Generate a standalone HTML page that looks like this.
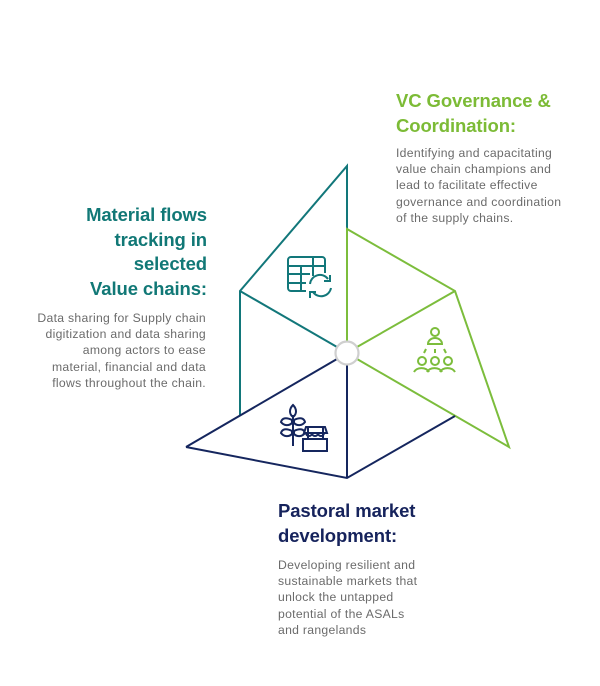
<!DOCTYPE html>
<html><head><meta charset="utf-8"><style>
html,body{margin:0;padding:0;background:#fff;}
body{width:600px;height:686px;position:relative;overflow:hidden;font-family:"Liberation Sans",sans-serif;}
.t{position:absolute;font-weight:bold;font-size:18.5px;line-height:24.5px;letter-spacing:-0.1px;white-space:nowrap;}
.b{position:absolute;font-size:12.2px;line-height:16.2px;color:#6b6b6b;white-space:nowrap;letter-spacing:0.3px;}
</style></head><body>
<svg width="600" height="686" style="position:absolute;left:0;top:0" fill="none" stroke-width="2" stroke-linejoin="miter">
<g stroke="#12777a">
<polyline points="347,229 347,166 240,291 240,416"/>
<line x1="240" y1="291" x2="337" y2="347"/>
</g>
<g stroke="#7cbd3c">
<polyline points="347,341 347,229 455,291 509,447 357,359"/>
<line x1="455" y1="291" x2="357" y2="347"/>
</g>
<g stroke="#15265e">
<line x1="337" y1="359" x2="186" y2="447"/>
<polyline points="186,447 347,478 455,416"/>
<line x1="347" y1="365" x2="347" y2="478"/>
</g>
<circle cx="347" cy="353" r="11.5" stroke="#cfcfcf" stroke-width="2.2" fill="#fff"/>
<g stroke="#12777a" stroke-width="2" fill="none">
<path d="M306,291 H291 a3,3 0 0 1 -3,-3 V260 a3,3 0 0 1 3,-3 H322 a3,3 0 0 1 3,3 V273"/>
<line x1="288" y1="266" x2="325" y2="266"/>
<line x1="288" y1="274" x2="310" y2="274"/>
<line x1="288" y1="283" x2="306" y2="283"/>
<line x1="301" y1="266" x2="301" y2="291"/>
<line x1="313" y1="257" x2="313" y2="276"/>
<path d="M310,284 a10,10 0 0 1 18,-5"/><path d="M330,275 v6 h-6"/>
<path d="M331,288 a10,10 0 0 1 -18,4"/><path d="M310,298 v-6 h6"/>
</g>
<g stroke="#7cbd3c" stroke-width="2" fill="none">
<circle cx="435" cy="332" r="4"/>
<path d="M428,344 a7,6 0 0 1 14,0 z"/>
<line x1="426" y1="349" x2="424" y2="353"/><line x1="435" y1="349" x2="435" y2="353"/><line x1="444" y1="349" x2="446" y2="353"/>
<circle cx="422" cy="361" r="4"/><circle cx="435" cy="361" r="4"/><circle cx="448" cy="361" r="4"/>
<path d="M414,372 a8,6 0 0 1 15,0"/><path d="M427,372 a8,6 0 0 1 15,0"/><path d="M440,372 a8,6 0 0 1 15,0"/>
</g>
<g stroke="#15265e" stroke-width="2" fill="none">
<line x1="293" y1="415" x2="293" y2="446"/>
<path d="M293,405 c-4,4 -4,9 0,12 c4,-3 4,-8 0,-12z"/>
<path d="M292,420 c-6,-3 -10,-2 -11,2 c3,4 8,4 11,1z"/><path d="M294,420 c6,-3 10,-2 11,2 c-3,4 -8,4 -11,1z"/>
<path d="M292,431 c-6,-3 -10,-2 -11,2 c3,4 8,4 11,1z"/><path d="M294,431 c6,-3 10,-2 11,2 c-3,4 -8,4 -11,1z"/>
<rect x="303" y="439" width="24" height="12"/>
<path d="M308,439 v-12 M323,439 v-12 M306,427 h19 l2,6 h-23 z"/>
<path d="M306,433 a3,3 0 0 0 6,0 a3,3 0 0 0 6,0 a3,3 0 0 0 6,0"/>
</g>
</svg>
<div class="t" style="left:396px;top:89px;color:#7cbb36;">VC Governance &amp;<br>Coordination:</div>
<div class="b" style="left:396px;top:145px;">Identifying and capacitating<br>value chain champions and<br>lead to facilitate effective<br>governance and coordination<br>of the supply chains.</div>
<div class="t" style="right:393px;top:203px;text-align:right;color:#117876;">Material flows<br>tracking in<br>selected<br>Value chains:</div>
<div class="b" style="right:394px;top:310px;text-align:right;">Data sharing for Supply chain<br>digitization and data sharing<br>among actors to ease<br>material, financial and data<br>flows throughout the chain.</div>
<div class="t" style="left:278px;top:499px;color:#16235c;">Pastoral market<br>development:</div>
<div class="b" style="left:278px;top:557px;">Developing resilient and<br>sustainable markets that<br>unlock the untapped<br>potential of the ASALs<br>and rangelands</div>
</body></html>
